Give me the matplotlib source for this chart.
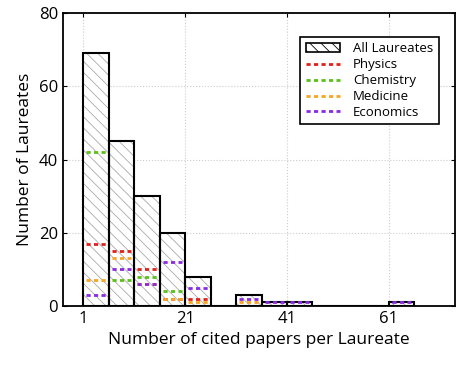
import matplotlib
matplotlib.use('Agg')
import matplotlib.pyplot as plt
from matplotlib.patches import Patch
from matplotlib.lines import Line2D

plt.rcParams['font.family'] = ['Open Sans', 'DejaVu Sans']
plt.rcParams['hatch.linewidth'] = 0.6

# bin left edges (width 5)
bin_left = [1, 6, 11, 16, 21, 26, 31, 36, 41, 46, 51, 56, 61]
all_laureates = [69, 45, 30, 20, 8, 0, 3, 1, 1, 0, 0, 0, 1]
physics = [17, 15, 10, 2, 2, 0, 0, 0, 0, 0, 0, 0, 0]
chemistry = [42, 7, 8, 4, 0, 0, 0, 0, 0, 0, 0, 0, 0]
medicine = [7, 13, 6, 2, 1, 0, 1, 0, 0, 0, 0, 0, 0]
economics = [3, 10, 6, 12, 5, 0, 2, 1, 1, 0, 0, 0, 1]

categories = ["Physics", "Chemistry", "Medicine", "Economics"]
colors = ["#e0201b", "#5cbf1a", "#f5a623", "#8a2be2"]
width = 5
hatch_col = '#aaaaaa'

fig = plt.figure(figsize=(4.62, 3.66), dpi=100)
ax = fig.add_axes([63 / 462, 1 - 306 / 366, 392 / 462, 293 / 366])

# hatched fill, then black outline on top
ax.bar(bin_left, all_laureates, width=width, align='edge', facecolor='white',
       edgecolor=hatch_col, linewidth=0, hatch='\\\\\\', zorder=2)
ax.bar(bin_left, all_laureates, width=width, align='edge', fill=False,
       edgecolor='black', linewidth=1.5, zorder=2.5)

handles = [Patch(facecolor='white', edgecolor='black', hatch='\\\\\\',
                 linewidth=1.2, label='All Laureates')]
for name, vals, c in zip(categories, [physics, chemistry, medicine, economics], colors):
    xs = [b for b, v in zip(bin_left, vals) if v > 0]
    ys = [v for v in vals if v > 0]
    ax.hlines(ys, [x + 0.6 for x in xs], [x + width - 0.6 for x in xs],
              colors=c, linestyles=(0, (1.5, 1.2)), linewidth=2, zorder=3)
    handles.append(Line2D([], [], color=c, linestyle=(0, (1.5, 1.2)),
                          linewidth=2, label=name))

ax.set_xlim(-3, 74)
ax.set_ylim(0, 80)
ax.set_xticks([1, 21, 41, 61])
ax.set_yticks([0, 20, 40, 60, 80])
ax.tick_params(direction='in', top=True, right=True, labelsize=12, length=3)
ax.grid(True, color='#cccccc', linestyle=':', linewidth=0.8, zorder=0)
ax.set_axisbelow(True)
for s in ax.spines.values():
    s.set_linewidth(1.3)

ax.set_xlabel("Number of cited papers per Laureate", fontsize=12.5)
ax.set_ylabel("Number of Laureates", fontsize=12.5)

leg = ax.legend(handles=handles, loc='upper right', bbox_to_anchor=(0.975, 0.94),
                fontsize=9.5, fancybox=False, framealpha=1, edgecolor='black',
                handlelength=2.6, handletextpad=1.0, labelspacing=0.22,
                borderpad=0.4)
leg.get_frame().set_linewidth(1.2)

fig.savefig("out.png", dpi=100)
